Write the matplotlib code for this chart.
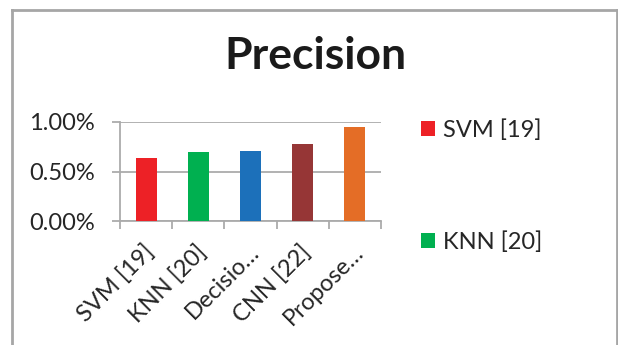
import matplotlib
matplotlib.use("Agg")
import matplotlib.pyplot as plt
from matplotlib.lines import Line2D
from matplotlib.ticker import FuncFormatter
from matplotlib.transforms import ScaledTranslation

# Data (precision in %)
categories = ["SVM [19]", "KNN [20]", "Decisio…", "CNN [22]", "Propose…"]
legend_labels = ["SVM [19]", "KNN [20]"]
values = [0.64, 0.70, 0.71, 0.78, 0.95]
colors = ["#ED2126", "#00B050", "#1C70BA", "#963636", "#E46D26"]
yticks = [0.0, 0.5, 1.0]

plt.rcParams['font.family'] = ['Lato', 'DejaVu Sans']
txt = "#262626"
grid_c = "#ABABAB"
FS = 17

fig = plt.figure(figsize=(6.18, 3.45), dpi=100)
W, H = 618, 345
ax = fig.add_axes([120 / W, (H - 221) / H, (381 - 120) / W, (221 - 122) / H])

x = range(len(categories))
bars = ax.bar(x, values, width=0.4, color=colors, zorder=3)

ax.set_xlim(-0.5, len(categories) - 0.5)
ax.set_ylim(0, 1.0)
ax.set_yticks(yticks)
ax.yaxis.set_major_formatter(FuncFormatter(lambda v, p: f"{v:.2f}%"))
ax.grid(axis='y', color=grid_c, linewidth=1.3, zorder=0)

for s in ['top', 'right']:
    ax.spines[s].set_visible(False)
for s in ['left', 'bottom']:
    ax.spines[s].set_color(grid_c)
    ax.spines[s].set_linewidth(1.3)

ax.tick_params(axis='y', length=6, width=1.3, color=grid_c, labelsize=FS,
               labelcolor=txt, pad=12)
ax.set_xticks([i - 0.5 for i in range(len(categories) + 1)], minor=False)
ax.set_xticklabels([])
ax.set_xticks(list(x), minor=True)
ax.set_xticklabels(categories, minor=True, rotation=45, ha='right', va='center',
                   rotation_mode='anchor', fontsize=FS, color=txt)
ax.tick_params(axis='x', which='major', length=6, width=1.3, color=grid_c, direction='out')
ax.tick_params(axis='x', which='minor', length=0, pad=20)
shift = ScaledTranslation(5 / 100, 0, fig.dpi_scale_trans)
for lab in ax.get_xticklabels(minor=True):
    lab.set_transform(lab.get_transform() + shift)

fig.suptitle("Precision", x=315 / W, y=1 - 36 / H, fontsize=32,
             fontweight='bold', color="#1a1a1a", va='top')

leg = fig.legend(handles=list(bars[:2]), labels=legend_labels,
                 loc='upper left', bbox_to_anchor=(421 / W, 1 - 119 / H),
                 frameon=False, fontsize=FS, handlelength=0.6, handleheight=0.6,
                 handletextpad=0.35, labelspacing=3.85, borderaxespad=0, borderpad=0)
for t in leg.get_texts():
    t.set_color(txt)

# chart border (left, top, right)
bc = "#A6A6A6"
fig.add_artist(Line2D([12 / W, 12 / W], [0, 1 - 10 / H], transform=fig.transFigure, color=bc, lw=2))
fig.add_artist(Line2D([12 / W, 617 / W], [1 - 10 / H, 1 - 10 / H], transform=fig.transFigure, color=bc, lw=2))
fig.add_artist(Line2D([617 / W, 617 / W], [0, 1 - 10 / H], transform=fig.transFigure, color=bc, lw=2))

fig.savefig("out.png", dpi=100)
